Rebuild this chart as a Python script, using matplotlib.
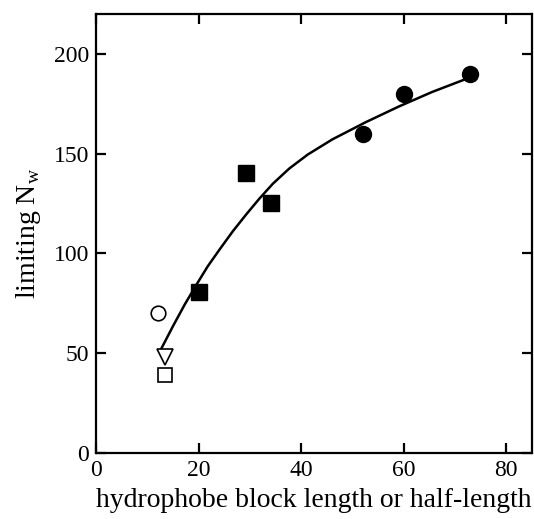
import matplotlib
matplotlib.use('Agg')
import matplotlib.pyplot as plt

plt.rcParams['font.family'] = ['Liberation Serif', 'DejaVu Serif']
plt.rcParams['mathtext.fontset'] = 'custom'
plt.rcParams['mathtext.rm'] = 'Liberation Serif'

# filled squares
sq_x = [20, 29.2, 34.2]
sq_y = [80.5, 140.5, 125.5]
# filled circles
circ_x = [52, 60, 73]
circ_y = [160, 180, 190]
# open symbols
open_circ = (12, 70)
open_tri = (13.5, 48)
open_sq = (13.5, 39)

# fitted curve
curve_x = [12.8, 15.0, 17.3, 19.6, 21.8, 24.1, 26.7, 29.3, 31.9, 34.5,
           37.7, 41.3, 46.1, 52.6, 59.0, 65.5, 72.7]
curve_y = [52.6, 63.5, 74.4, 84.4, 93.6, 102, 111.2, 119.6, 127.6, 135.0,
           142.6, 149.6, 157.2, 165.8, 173.6, 180.9, 188]

fig = plt.figure(figsize=(5.34, 5.19), dpi=100)
ax = fig.add_axes([0.1797, 0.1272, 0.8166, 0.8458])

ax.plot(curve_x, curve_y, color='black', lw=1.8, solid_joinstyle='round', zorder=2)
ax.plot(sq_x, sq_y, 's', color='black', ms=11, zorder=3)
ax.plot(circ_x, circ_y, 'o', color='black', ms=11.5, zorder=3)
ax.plot(*open_circ, 'o', mfc='white', mec='black', mew=1.2, ms=10.5, zorder=3)
ax.plot(*open_tri, 'v', mfc='white', mec='black', mew=1.2, ms=12, zorder=3)
ax.plot(*open_sq, 's', mfc='white', mec='black', mew=1.2, ms=10.5, zorder=3)

ax.set_xlim(0, 85)
ax.set_ylim(0, 220)
ax.set_xticks([0, 20, 40, 60, 80])
ax.set_yticks([0, 50, 100, 150, 200])
for s in ax.spines.values():
    s.set_linewidth(1.6)
ax.tick_params(direction='in', length=7, width=1.6, top=True, right=True,
               labelsize=17, pad=5)

ax.set_xlabel('hydrophobe block length or half-length', fontsize=20, labelpad=5)
ax.set_ylabel(r'limiting N$_\mathregular{w}$', fontsize=20, labelpad=8)

fig.savefig('out.png', dpi=100)
